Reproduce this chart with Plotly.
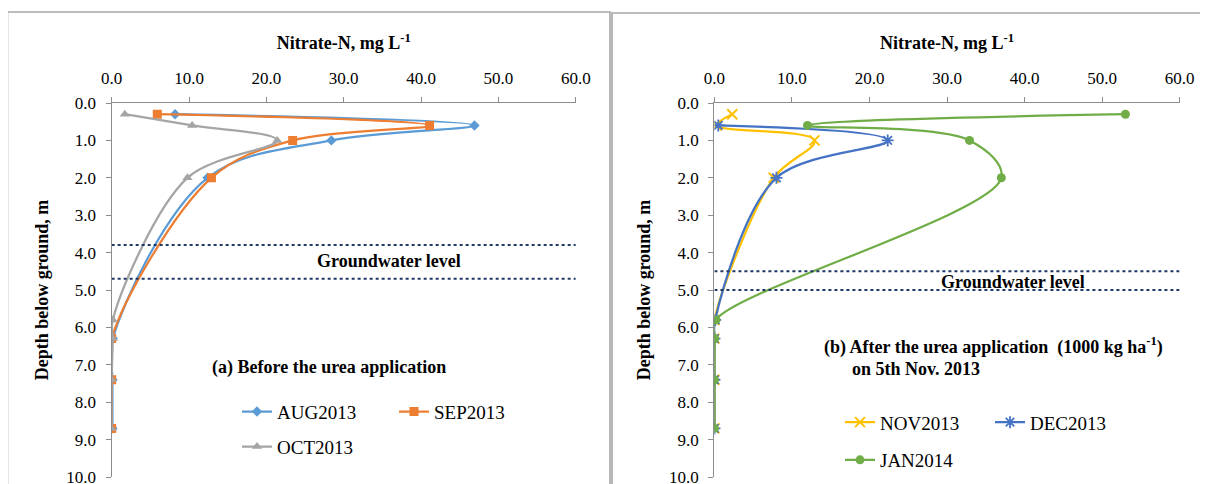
import plotly.graph_objects as go

# ---------------- data ----------------
depth_a = [0.3, 0.6, 1.0, 2.0, 6.3, 7.4, 8.7]
aug2013 = [8.2, 46.9, 28.4, 12.4, 0.15, 0.1, 0.1]
sep2013 = [5.9, 41.1, 23.4, 12.9, 0.0, 0.0, 0.0]
depth_oct = [0.3, 0.6, 1.0, 2.0, 5.8, 6.3, 7.4, 8.7]
oct2013 = [1.7, 10.4, 21.4, 9.8, 0.15, 0.15, 0.0, 0.0]

depth_b = [0.3, 0.6, 1.0, 2.0, 5.8, 6.3, 7.4, 8.7]
nov2013 = [2.3, 0.3, 12.9, 7.65, 0.0, 0.0, 0.0, 0.0]
depth_dec = [0.6, 1.0, 2.0, 5.8, 6.3, 7.4, 8.7]
dec2013 = [0.5, 22.35, 8.0, 0.1, 0.0, 0.0, 0.0]
jan2014 = [53.0, 12.0, 32.9, 37.0, 0.2, 0.05, 0.0, 0.0]

gw_a = [3.8, 4.7]
gw_b = [4.5, 5.0]
gw_x = [0.0, 60.0]

x_ticks = [0, 10, 20, 30, 40, 50, 60]
y_ticks = [0, 1, 2, 3, 4, 5, 6, 7, 8, 9, 10]

# ---------------- layout helpers ----------------
# The page body has an 8px margin, so the figure is drawn 8px in from the
# window corner; positions below are given in window pixels.
OFF = 8
W, H = 1208 - OFF, 484 - OFF
MT = 103 - OFF
MB = 7
PH = H - MT - MB


def px(x):
    return (x - OFF) / W


def py(y):
    return (H - MB - (y - OFF)) / PH


FONT = "Liberation Serif"
AXIS_COLOR = "#8c8c8c"

fig = go.Figure()


def add_series(x, y, name, color, symbol, size, xa, ya, legend, mline=None):
    marker = dict(color=color, symbol=symbol, size=size)
    if mline:
        marker["line"] = dict(color=color, width=mline)
    fig.add_trace(go.Scatter(
        x=x, y=y, name=name, mode="lines+markers",
        line=dict(color=color, width=2.25, shape="spline", smoothing=1.0),
        marker=marker, xaxis=xa, yaxis=ya, legend=legend,
    ))


# panel (a)
add_series(aug2013, depth_a, "AUG2013", "#5B9BD5", "diamond", 8, "x", "y", "legend")
add_series(sep2013, depth_a, "SEP2013", "#ED7D31", "square", 9, "x", "y", "legend")
add_series(oct2013, depth_oct, "OCT2013", "#A5A5A5", "triangle-up", 9, "x", "y", "legend2")
for g in gw_a:
    fig.add_trace(go.Scatter(x=gw_x, y=[g, g], mode="lines", showlegend=False,
                             line=dict(color="#1F3864", width=2, dash="dot"),
                             xaxis="x", yaxis="y", hoverinfo="skip"))

# panel (b)
add_series(nov2013, depth_b, "NOV2013", "#FFC000", "x-thin", 10, "x2", "y2", "legend3", mline=2)
add_series(dec2013, depth_dec, "DEC2013", "#4472C4", "asterisk", 10, "x2", "y2", "legend3", mline=1.8)
add_series(jan2014, depth_b, "JAN2014", "#70AD47", "circle", 9, "x2", "y2", "legend4")
for g in gw_b:
    fig.add_trace(go.Scatter(x=gw_x, y=[g, g], mode="lines", showlegend=False,
                             line=dict(color="#1F3864", width=2, dash="dot"),
                             xaxis="x2", yaxis="y2", hoverinfo="skip"))


def xaxis_cfg():
    return dict(
        range=[0, 60], side="top", tickvals=x_ticks, tickformat=".1f",
        showline=True, linecolor=AXIS_COLOR, linewidth=1.3,
        ticks="outside", ticklen=5, tickcolor=AXIS_COLOR, tickwidth=1.3,
        showgrid=False, zeroline=False, automargin=False,
        ticklabeloverflow="allow",
        tickfont=dict(family=FONT, size=17, color="black"),
        ticklabelstandoff=6,
        title=dict(text="<b>Nitrate-N, mg L<sup>-1</sup></b>", standoff=14,
                   font=dict(family=FONT, size=18, color="black")),
    )


def yaxis_cfg():
    return dict(
        range=[10, 0], tickvals=y_ticks, tickformat=".1f",
        showline=True, linecolor=AXIS_COLOR, linewidth=1.3,
        ticks="outside", ticklen=5, tickcolor=AXIS_COLOR, tickwidth=1.3,
        showgrid=False, zeroline=False, automargin=False,
        ticklabeloverflow="allow",
        tickfont=dict(family=FONT, size=17, color="black"),
        ticklabelstandoff=6,
        title=dict(text="<b>Depth below ground, m</b>", standoff=13,
                   font=dict(family=FONT, size=18, color="black")),
    )


fig.update_layout(
    width=W, height=H, template="none",
    margin=dict(l=0, r=0, t=MT, b=MB, pad=0),
    paper_bgcolor="white", plot_bgcolor="white",
    font=dict(family=FONT, size=17, color="black"),
    xaxis=dict(domain=[px(111.65), px(575.8)], anchor="y", **xaxis_cfg()),
    yaxis=dict(domain=[0, 1], anchor="x", **yaxis_cfg()),
    xaxis2=dict(domain=[px(714.4), px(1179.7)], anchor="y2", **xaxis_cfg()),
    yaxis2=dict(domain=[0, 1], anchor="x2", **yaxis_cfg()),
)


def leg(x, y, ew=None):
    d = dict(orientation="h", xanchor="left", yanchor="middle", x=px(x), y=py(y),
             bgcolor="rgba(0,0,0,0)", font=dict(family=FONT, size=19, color="black"),
             itemclick=False, itemdoubleclick=False)
    if ew:
        d.update(entrywidthmode="pixels", entrywidth=ew)
    return d


fig.update_layout(
    legend=leg(237, 411.7, 112),
    legend2=leg(237, 446.7),
    legend3=leg(840, 422.3, 105),
    legend4=leg(840, 460),
)

# annotations
ann_font = dict(family=FONT, size=18, color="black")
fig.add_annotation(x=35.9, y=4.22, xref="x", yref="y", text="<b>Groundwater level</b>",
                   showarrow=False, font=ann_font)
fig.add_annotation(x=28.06, y=7.06, xref="x", yref="y", text="<b>(a) Before the urea application</b>",
                   showarrow=False, font=ann_font)
fig.add_annotation(x=38.5, y=4.78, xref="x2", yref="y2", text="<b>Groundwater level</b>",
                   showarrow=False, font=ann_font)
fig.add_annotation(x=px(821.8), y=py(360), xref="paper", yref="paper", xanchor="left",
                   text="<b>(b) After the urea application  (1000 kg ha<sup>-1</sup>)</b>",
                   showarrow=False, font=ann_font)
fig.add_annotation(x=px(850), y=py(381), xref="paper", yref="paper", xanchor="left",
                   text="<b>on 5th Nov. 2013</b>", showarrow=False, font=ann_font)

# panel borders
border = dict(color="#a6a6a6", width=1.6)
fig.add_shape(type="rect", xref="paper", yref="paper",
              x0=px(7.5), x1=px(610), y0=py(492), y1=py(12), line=border, layer="below")
fig.add_shape(type="rect", xref="paper", yref="paper",
              x0=px(612), x1=px(1215), y0=py(492), y1=py(13), line=border, layer="below")

fig.write_html("out.html")
